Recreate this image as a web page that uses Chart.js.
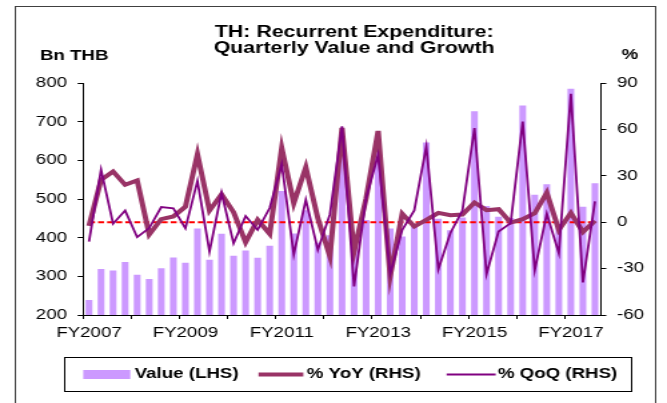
<!DOCTYPE html>
<html>
<head>
<meta charset="utf-8">
<script src="https://cdn.jsdelivr.net/npm/chart.js@4.4.1/dist/chart.umd.min.js"></script>
<style>
  html, body { margin: 0; padding: 0; background: #fff; overflow: hidden; }
  /* the reference is a 500px wide chart stretched to 667px */
  #wrap { width: 500px; height: 403px; transform: scaleX(1.334); transform-origin: 0 0; }
</style>
</head>
<body>
<div id="wrap"><canvas id="chart"></canvas></div>
<script>
const fiscalYears = ['FY2007', 'FY2008', 'FY2009', 'FY2010', 'FY2011', 'FY2012',
  'FY2013', 'FY2014', 'FY2015', 'FY2016', 'FY2017'];
const tickYears = ['FY2007', 'FY2009', 'FY2011', 'FY2013', 'FY2015', 'FY2017'];

// Bn THB
const value = [239, 319, 315, 337, 304, 293, 321, 349, 335, 424,
  343, 410, 353, 367, 348, 379, 521, 411, 471, 387,
  406, 659, 386, 446, 640, 424, 403, 434, 646, 449,
  419, 452, 727, 482, 454, 451, 742, 511, 538, 430,
  785, 480, 541];
// %
const yoy = [-2.4, 27.4, 32.8, 24.2, 27, -8, 2, 3.7, 10, 44,
  7.5, 18, 6.5, -13, 1.5, -7.5, 48, 12.3, 35.5, 2.5,
  -22, 61, -19, 15.5, 59, -35, 5.5, -2.8, 1.5, 6,
  4.5, 5, 12.7, 7.8, 8.4, -0.2, 2, 5.8, 19, -5,
  6, -6.3, 1];
const qoq = [-12.5, 34, -1, 7.5, -9.7, -3.8, 9.8, 9, -4, 26.7,
  -19, 19, -13.7, 4, -5, 9.2, 37.5, -20.8, 14.5, -17.9,
  5, 62, -41.5, 15.5, 43.6, -33.5, -5, 7.6, 49, -30.4,
  -7, 7.5, 60.9, -33.5, -6, -0.6, 65, -31, 5.5, -20,
  83, -39, 13.5];

const quarters = fiscalYears
  .flatMap(fy => ['Q1', 'Q2', 'Q3', 'Q4'].map(q => fy + ' ' + q))
  .slice(0, value.length);

const titleLines = ['TH: Recurrent Expenditure:', 'Quarterly Value and Growth'];
const FONT = '"Liberation Sans", Arial, sans-serif';

const extras = {
  id: 'extras',
  afterDatasetDraw(chart, args) {
    // red dashed zero line on the RHS axis, over the bars
    if (args.index !== 0) return;
    const { ctx, scales: { x, y1 } } = chart;
    const yy = y1.getPixelForValue(0);
    ctx.save();
    ctx.strokeStyle = '#ff0000';
    ctx.lineWidth = 2;
    ctx.setLineDash([4.5, 2.3]);
    ctx.beginPath();
    ctx.moveTo(x.getPixelForValue(0), yy);
    ctx.lineTo(x.getPixelForValue(value.length - 1), yy);
    ctx.stroke();
    ctx.restore();
  },
  afterDraw(chart) {
    const ctx = chart.ctx;
    const ds = chart.data.datasets;
    ctx.save();
    // outer frame
    ctx.strokeStyle = '#404040';
    ctx.lineWidth = 1;
    ctx.strokeRect(11.5, 6.5, 480, 410);

    ctx.fillStyle = '#000';
    ctx.font = 'bold 16px ' + FONT;
    ctx.textAlign = 'center';
    ctx.textBaseline = 'alphabetic';
    ctx.fillText(titleLines[0], 265.5, 37);
    ctx.fillText(titleLines[1], 265.5, 53);

    ctx.font = 'bold 14px ' + FONT;
    ctx.textAlign = 'left';
    ctx.fillText('Bn THB', 30, 60);
    ctx.fillText('%', 466, 59);

    // legend
    ctx.strokeStyle = '#000';
    ctx.strokeRect(48.5, 357.5, 425, 34);
    const cy = 374.5;
    ctx.fillStyle = ds[0].backgroundColor;
    ctx.fillRect(62.4, cy - 4.5, 35.3, 9);
    ctx.lineCap = 'butt';
    ctx.strokeStyle = ds[1].borderColor;
    ctx.lineWidth = ds[1].borderWidth;
    ctx.beginPath(); ctx.moveTo(193.8, cy); ctx.lineTo(227.4, cy); ctx.stroke();
    ctx.strokeStyle = ds[2].borderColor;
    ctx.lineWidth = ds[2].borderWidth;
    ctx.beginPath(); ctx.moveTo(334.8, cy); ctx.lineTo(371.6, cy); ctx.stroke();
    ctx.fillStyle = '#000';
    ctx.textBaseline = 'middle';
    ctx.fillText(ds[0].label, 101, cy);
    ctx.fillText(ds[1].label, 230, cy);
    ctx.fillText(ds[2].label, 373.2, cy);
    ctx.restore();
  }
};

new Chart(document.getElementById('chart'), {
  type: 'bar',
  data: {
    labels: quarters,
    datasets: [
      {
        label: 'Value (LHS)',
        data: value,
        backgroundColor: '#cc99ff',
        yAxisID: 'y',
        barPercentage: 0.56,
        categoryPercentage: 1,
        order: 3,
      },
      {
        type: 'line',
        label: '% YoY (RHS)',
        data: yoy,
        borderColor: '#993366',
        borderWidth: 4,
        pointRadius: 0,
        tension: 0,
        yAxisID: 'y1',
        order: 2,
      },
      {
        type: 'line',
        label: '% QoQ (RHS)',
        data: qoq,
        borderColor: '#800080',
        borderWidth: 1.8,
        pointRadius: 0,
        tension: 0,
        yAxisID: 'y1',
        order: 1,
      },
    ],
  },
  options: {
    responsive: true,
    maintainAspectRatio: false,
    animation: false,
    layout: { padding: { top: 83, left: 0, right: 0, bottom: 0 } },
    plugins: {
      legend: { display: false },
      title: { display: false },
      tooltip: { enabled: false },
    },
    scales: {
      x: {
        offset: true,
        grid: {
          offset: true,
          drawOnChartArea: false,
          tickLength: 4,
          color: (c) => (c.index % 4 === 0 ? '#000' : 'rgba(0,0,0,0)'),
        },
        border: { color: '#000', width: 1 },
        ticks: {
          autoSkip: false,
          maxRotation: 0,
          padding: 6,
          color: '#000',
          font: { family: FONT, size: 14 },
          callback: (v, i) => (i % 8 === 0 ? tickYears[i / 8] : ''),
        },
        afterFit: (s) => { s.height = 88; },
      },
      y: {
        position: 'left',
        min: 200,
        max: 800,
        grid: { drawOnChartArea: false, tickLength: 4, color: '#000' },
        border: { color: '#000', width: 1 },
        ticks: {
          stepSize: 100,
          padding: 8,
          color: '#000',
          font: { family: FONT, size: 14 },
        },
        afterFit: (s) => { s.width = 62.2; },
      },
      y1: {
        position: 'right',
        min: -60,
        max: 90,
        grid: { drawOnChartArea: false, tickLength: 4, color: '#000' },
        border: { color: '#000', width: 1 },
        ticks: {
          stepSize: 30,
          padding: 8,
          color: '#000',
          font: { family: FONT, size: 14 },
        },
        afterFit: (s) => { s.width = 49.5; },
      },
    },
  },
  plugins: [extras],
});
</script>
</body>
</html>
